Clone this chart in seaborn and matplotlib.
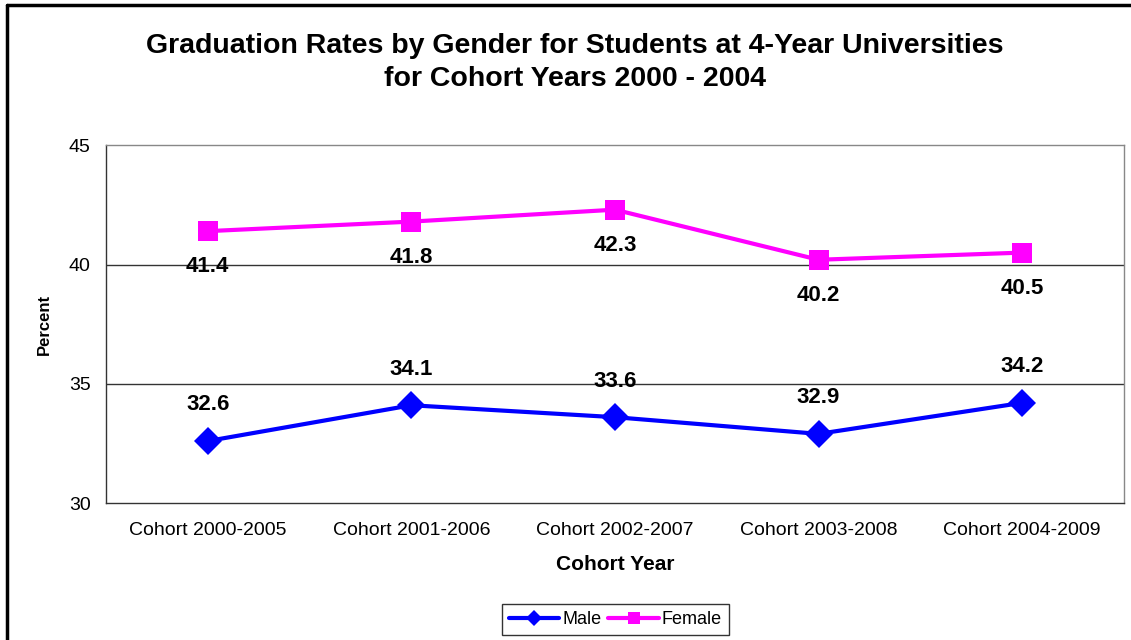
import matplotlib
import pandas as pd
import seaborn as sns

matplotlib.use("Agg")
import matplotlib.pyplot as plt
from matplotlib.lines import Line2D

cohorts = ["Cohort 2000-2005", "Cohort 2001-2006", "Cohort 2002-2007",
           "Cohort 2003-2008", "Cohort 2004-2009"]
male = [32.6, 34.1, 33.6, 32.9, 34.2]
female = [41.4, 41.8, 42.3, 40.2, 40.5]

rows = []
for c, m, f in zip(cohorts, male, female):
    rows.append({"Cohort": c, "Gender": "Male", "Percent": m})
    rows.append({"Cohort": c, "Gender": "Female", "Percent": f})
df = pd.DataFrame(rows)

sns.set_theme(style="white")
plt.rcParams["font.family"] = ["Liberation Sans", "DejaVu Sans"]
plt.rcParams["text.color"] = "black"
plt.rcParams["axes.labelcolor"] = "black"
plt.rcParams["xtick.color"] = "black"
plt.rcParams["ytick.color"] = "black"

fig = plt.figure(figsize=(11.31, 6.4), dpi=100)
ax = fig.add_axes([0.0937, 0.214, 0.9, 0.559])

colors = {"Male": "#0000FF", "Female": "#FF00FF"}
ax = sns.lineplot(
    data=df, x="Cohort", y="Percent", hue="Gender", style="Gender",
    palette=colors, markers={"Male": "D", "Female": "s"}, dashes=False,
    linewidth=3, markersize=14, markeredgewidth=0, ax=ax, legend=False,
)

# value labels: female below the point, male above
for i, v in enumerate(female):
    ax.annotate(f"{v}", (i, v), xytext=(0, -25.5), textcoords="offset points",
                ha="center", va="center", fontsize=16, fontweight="bold")
for i, v in enumerate(male):
    ax.annotate(f"{v}", (i, v), xytext=(0, 26), textcoords="offset points",
                ha="center", va="center", fontsize=16, fontweight="bold")

ax.set_ylim(30, 45)
ax.set_yticks([30, 35, 40, 45])
ax.set_xlim(-0.5, 4.5)
ax.set_xticks([x - 0.5 for x in range(6)], minor=False)
ax.set_xticklabels([])
ax.set_xticks(range(5), minor=True)
ax.set_xticklabels(cohorts, minor=True, fontsize=14)
ax.tick_params(axis="x", which="major", direction="out", length=5, color="#333333")
ax.tick_params(axis="x", which="minor", length=0, pad=14)
ax.tick_params(axis="y", direction="out", length=5, labelsize=14, color="#333333", pad=6)
for y in [35, 40]:
    ax.axhline(y, color="#333333", linewidth=1, zorder=0)

ax.set_xlabel("Cohort Year", fontsize=15, fontweight="bold", labelpad=11)
ax.set_ylabel("Percent", fontsize=12, fontweight="bold", labelpad=12)
for s in ["left", "bottom"]:
    ax.spines[s].set_color("#333333")
    ax.spines[s].set_linewidth(1)
for s in ["top", "right"]:
    ax.spines[s].set_color("#888888")
    ax.spines[s].set_linewidth(1)

fig.text(0.508, 0.928, "Graduation Rates by Gender for Students at 4-Year Universities",
         ha="center", va="center", fontsize=20.5, fontweight="bold")
fig.text(0.508, 0.877, "for Cohort Years 2000 - 2004",
         ha="center", va="center", fontsize=20.5, fontweight="bold")

handles = [
    Line2D([], [], color=colors["Male"], marker="D", markersize=8, linewidth=3, markeredgewidth=0),
    Line2D([], [], color=colors["Female"], marker="s", markersize=8, linewidth=3, markeredgewidth=0),
]
leg = fig.legend(handles, ["Male", "Female"], loc="center", bbox_to_anchor=(0.544, 0.032),
                 ncol=2, fontsize=13, frameon=True, fancybox=False, handlelength=2.8,
                 columnspacing=0.4, handletextpad=0.15, borderpad=0.4, borderaxespad=0)
leg.get_frame().set_edgecolor("black")
leg.get_frame().set_linewidth(1)

# outer chart border (top and left visible)
fig.add_artist(Line2D([0.0062, 1.0], [0.992, 0.992], color="black", linewidth=2.5, transform=fig.transFigure))
fig.add_artist(Line2D([0.0062, 0.0062], [0.0, 0.992], color="black", linewidth=2.5, transform=fig.transFigure))

plt.savefig("out.png", dpi=100)
plt.close(fig)
